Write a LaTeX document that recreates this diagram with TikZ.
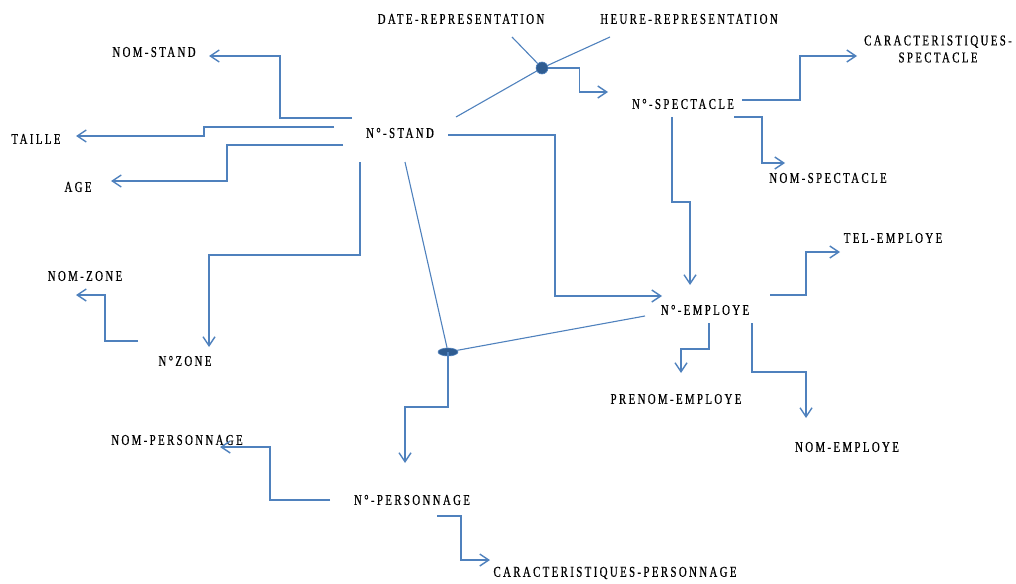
\documentclass[tikz,border=0pt]{standalone}
\usepackage{fontspec}
\setmainfont{Liberation Serif}[FakeStretch=0.72,LetterSpace=16,FakeBold=0.6]
\usetikzlibrary{arrows.meta,shapes.geometric}
\definecolor{linkblue}{RGB}{79,129,189}
\definecolor{dotblue}{RGB}{47,92,145}
\tikzset{
  attr/.style={inner sep=0pt,font=\fontsize{15}{17}\selectfont,align=center},
  link/.style={draw=linkblue,line width=1.1pt,-{Straight Barb[length=9pt,width=12pt,line width=1.4pt]}},
  plain/.style={draw=linkblue,line width=1.1pt},
  joint/.style={fill=dotblue,draw=linkblue,line width=0.6pt,inner sep=0pt}
}

\begin{document}
\begin{tikzpicture}[x=1pt,y=-1pt]
\useasboundingbox (0,0) rectangle (1016,583);
% attributes
\node[attr] (daterep) at (461,19) {DATE-REPRESENTATION};
\node[attr] (heurerep) at (689,19) {HEURE-REPRESENTATION};
\node[attr] (nomstand) at (154,52) {NOM-STAND};
\node[attr] (taille) at (36,139) {TAILLE};
\node[attr] (age) at (78,187) {AGE};
\node[attr] (stand) at (400,133) {N°-STAND};
\node[attr] (spect) at (683,104) {N°-SPECTACLE};
\node[attr] (caracspect) at (938,49) {CARACTERISTIQUES-\\SPECTACLE};
\node[attr] (nomspect) at (828,178) {NOM-SPECTACLE};
\node[attr] (telemp) at (893,238) {TEL-EMPLOYE};
\node[attr] (emp) at (705,310) {N°-EMPLOYE};
\node[attr] (nomzone) at (85,276) {NOM-ZONE};
\node[attr] (zone) at (185,361) {N°ZONE};
\node[attr] (prenomemp) at (676,399) {PRENOM-EMPLOYE};
\node[attr] (nomemp) at (847,447) {NOM-EMPLOYE};
\node[attr] (nompers) at (177,440) {NOM-PERSONNAGE};
\node[attr] (pers) at (412,500) {N°-PERSONNAGE};
\node[attr] (caracpers) at (615,573) {CARACTERISTIQUES-PERSONNAGE};
% joints
\node[joint,circle,minimum size=12pt] (joinrep) at (542,68) {};
\node[joint,ellipse,minimum width=20pt,minimum height=8pt] (joinpers) at (448,352) {};

% N°-STAND
\draw[link] ([shift={(-48,-15)}]stand.center) -- ++(-72,0) |- ([shift={(55,4)}]nomstand.center);
\draw[link] ([shift={(-66,-6)}]stand.center) -- ++(-130,0) |- ([shift={(40,-3)}]taille.center);
\draw[link] ([shift={(-57,12)}]stand.center) -- ++(-116,0) |- ([shift={(33,-6)}]age.center);
\draw[link] ([shift={(48,2)}]stand.center) -- ++(107,0) |- ([shift={(-43,-14)}]emp.center);
\draw[link] ([shift={(-40,29)}]stand.center) -- ++(0,93) -| ([shift={(24,-14)}]zone.center);
\draw[plain] ([shift={(5,29)}]stand.center) -- (joinpers);
% representation
\draw[plain] ([shift={(51,18)}]daterep.center) -- (joinrep);
\draw[plain] (joinrep) -- ([shift={(-79,18)}]heurerep.center);
\draw[plain] (joinrep) -- ([shift={(56,-16)}]stand.center);
\draw[link] (joinrep.east) -- ++(31,0) |- ([shift={(-75,-12)}]spect.center);
% N°-SPECTACLE
\draw[link] ([shift={(59,-4)}]spect.center) -- ++(58,0) |- ([shift={(-81,7)}]caracspect.center);
\draw[link] ([shift={(51,13)}]spect.center) -- ++(28,0) |- ([shift={(-43,-15)}]nomspect.center);
\draw[link] ([shift={(-11,13)}]spect.center) -- ++(0,85) -| ([shift={(-15,-25)}]emp.center);
% N°-EMPLOYE
\draw[link] ([shift={(65,-15)}]emp.center) -- ++(36,0) |- ([shift={(-53,14)}]telemp.center);
\draw[link] ([shift={(4,13)}]emp.center) -- ++(0,26) -| ([shift={(5,-26)}]prenomemp.center);
\draw[link] ([shift={(47,13)}]emp.center) -- ++(0,49) -| ([shift={(-41,-29)}]nomemp.center);
\draw[plain] (joinpers) -- ([shift={(-60,6)}]emp.center);
% N°-PERSONNAGE and N°ZONE
\draw[link] (joinpers.center) -- ++(0,55) -| ([shift={(-7,-37)}]pers.center);
\draw[link] ([shift={(-82,0)}]pers.center) -- ++(-60,0) |- ([shift={(43,7)}]nompers.center);
\draw[link] ([shift={(25,16)}]pers.center) -- ++(24,0) |- ([shift={(-125,-13)}]caracpers.center);
\draw[link] ([shift={(-47,-20)}]zone.center) -- ++(-33,0) |- ([shift={(-9,19)}]nomzone.center);
\end{tikzpicture}
\end{document}
